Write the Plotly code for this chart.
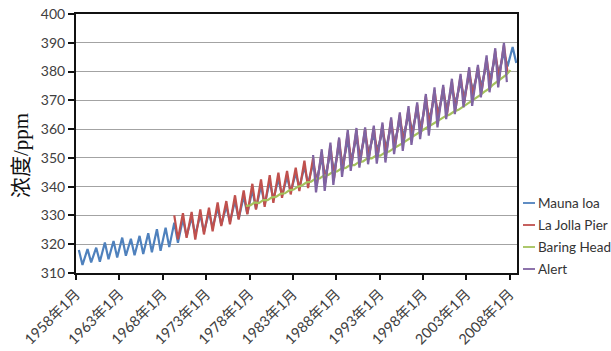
import plotly.graph_objects as go

# ---------------- data ----------------
# Mauna Loa: yearly spring maximum (May) and autumn minimum (Oct)
ml_years = list(range(1958, 2009))
ml_peak = [318.0, 318.3, 318.8, 320.6, 321.1, 322.3, 321.9, 322.9, 323.8, 325.2,
           325.7, 327.5, 328.8, 329.3, 330.2, 331.0, 332.6, 333.1, 335.0, 336.7,
           338.8, 340.2, 341.8, 342.7, 343.4, 344.6, 346.8, 347.8, 349.6, 351.5,
           353.8, 355.8, 356.8, 357.4, 358.0, 359.0, 360.8, 362.6, 364.6, 366.2,
           369.0, 371.0, 372.2, 374.0, 376.0, 378.3, 379.4, 382.3, 384.6, 386.5,
           388.5]
ml_trough = [312.8, 313.7, 313.9, 314.8, 315.4, 316.0, 316.2, 316.6, 317.2, 317.7,
             319.0, 320.5, 322.8, 323.3, 324.3, 325.8, 326.8, 327.8, 328.8, 330.6,
             332.3, 333.8, 335.6, 336.8, 338.2, 339.8, 341.3, 342.6, 343.8, 345.6,
             347.8, 349.6, 350.8, 352.2, 352.8, 353.8, 355.8, 357.8, 359.6, 360.8,
             363.8, 366.0, 367.4, 369.3, 371.3, 373.8, 375.3, 377.8, 379.8, 381.8,
             383.0]

# La Jolla Pier
lj_years = list(range(1969, 2008))
lj_peak = [330.0, 330.8, 331.2, 332.1, 332.7, 334.5, 335.0, 337.0, 338.7, 341.0,
           342.5, 344.0, 344.9, 345.5, 346.6, 349.0, 350.0, 352.0, 354.3, 356.5,
           358.8, 359.6, 360.0, 360.5, 361.5, 363.3, 365.0, 367.0, 368.5, 371.5,
           373.5, 374.6, 376.5, 378.5, 380.6, 381.5, 384.6, 387.0, 389.2]
lj_trough = [321.7, 322.2, 321.6, 323.4, 324.5, 326.3, 326.9, 328.6, 330.4, 332.0,
             333.0, 334.4, 336.1, 337.3, 338.5, 339.5, 340.5, 341.5, 343.0, 345.5,
             347.5, 348.5, 350.0, 350.5, 351.5, 353.5, 355.5, 357.5, 358.5, 361.5,
             364.0, 365.0, 367.0, 369.0, 371.5, 373.0, 375.5, 377.5, 379.5]

# Baring Head: August maximum of each year, February minimum of the next year
bh_years = list(range(1977, 2008))
bh_high = [333.3, 334.5, 335.3, 336.3, 337.5, 338.7, 340.0, 341.5, 342.7, 343.9,
           345.1, 346.3, 347.5, 348.5, 349.8, 350.8, 351.8, 353.2, 355.0, 357.0,
           358.8, 360.8, 362.7, 364.5, 366.1, 367.7, 369.5, 371.8, 374.0, 376.5,
           378.8]
bh_low_next = [333.5, 334.3, 335.3, 336.5, 337.7, 339.0, 340.5, 341.7, 342.9, 344.1,
               345.3, 346.5, 347.5, 348.8, 349.8, 350.8, 352.2, 354.0, 356.0, 357.8,
               359.8, 361.7, 363.5, 365.1, 366.7, 368.5, 370.8, 373.0, 375.5, 377.8,
               380.5]

# Alert
al_years = list(range(1985, 2008))
al_peak = [351.0, 353.0, 355.3, 357.1, 359.7, 360.4, 360.6, 361.2, 362.3, 364.1,
           365.8, 368.0, 369.3, 372.2, 374.5, 375.4, 377.5, 379.2, 381.5, 382.3,
           385.6, 388.1, 390.0]
al_trough = [338.0, 338.5, 340.6, 343.4, 345.5, 346.6, 347.8, 348.0, 348.4, 351.3,
             352.4, 354.5, 356.5, 357.7, 360.6, 363.5, 365.2, 367.6, 368.1, 371.0,
             372.8, 374.5, 376.3]

series_names = ["Mauna loa", "La Jolla Pier", "Baring Head", "Alert"]
series_colors = ["#4F81BD", "#C0504D", "#A4C25C", "#8064A2"]

tick_years = list(range(1958, 2009, 5))
tick_labels = [f"{y}年1月" for y in tick_years]


def zigzag(years, first_vals, m1, second_vals, m2, next_year=False):
    xs, ys = [], []
    for yr, a, b in zip(years, first_vals, second_vals):
        xs.append(f"{yr}-{m1:02d}-01")
        ys.append(a)
        xs.append(f"{yr + (1 if next_year else 0)}-{m2:02d}-01")
        ys.append(b)
    return xs, ys


data = [
    zigzag(ml_years, ml_peak, 5, ml_trough, 10),
    zigzag(lj_years, lj_peak, 5, lj_trough, 10),
    zigzag(bh_years, bh_high, 8, bh_low_next, 2, next_year=True),
    zigzag(al_years, al_peak, 5, al_trough, 9),
]

fig = go.Figure()
for (xs, ys), name, col in zip(data, series_names, series_colors):
    fig.add_trace(go.Scatter(x=xs, y=ys, mode="lines", name=name,
                             line=dict(color=col, width=2.2), showlegend=False))

# ---------------- layout ----------------
W, H = 611, 351
L, R, T, B = 76, 517, 14, 273


def px_x(p):
    return (p - L) / (R - L)


def px_y(p):
    return (B - p) / (B - T)


tickfont = dict(family="Lato, Noto Sans CJK SC, sans-serif", size=14, color="#404040")

fig.update_layout(
    width=W, height=H,
    margin=dict(l=L, r=W - R, t=T, b=H - B, pad=0),
    paper_bgcolor="white", plot_bgcolor="white",
    showlegend=False,
    xaxis=dict(
        type="date", range=["1958-01-01", "2008-11-01"],
        tickmode="array",
        tickvals=[f"{y}-01-01" for y in tick_years], ticktext=tick_labels,
        tickangle=-45, tickfont=dict(tickfont, size=14.5),
        ticks="outside", ticklen=5, tickwidth=1.5, tickcolor="#111",
        showgrid=False, zeroline=False,
        showline=True, linecolor="#111", linewidth=2, mirror=True,
        automargin=False, ticklabeloverflow="allow",
    ),
    yaxis=dict(
        range=[310, 400], dtick=10, tick0=310,
        tickfont=tickfont,
        ticks="outside", ticklen=6, tickwidth=1.5, tickcolor="#111",
        showgrid=True, gridcolor="#a3a3a3", gridwidth=1,
        zeroline=False,
        showline=True, linecolor="#111", linewidth=2, mirror=True,
        automargin=False, ticklabeloverflow="allow",
    ),
)

# y-axis title
fig.add_annotation(
    text="浓度/ppm", textangle=-90,
    xref="paper", yref="paper", x=px_x(21), y=px_y(156),
    xanchor="center", yanchor="middle", showarrow=False,
    font=dict(family="Liberation Serif, Noto Sans CJK SC, serif", size=21, color="#111"),
)

# legend (right of the plot)
legend_rows = [203, 225, 247, 269]
for name, col, ry in zip(series_names, series_colors, legend_rows):
    fig.add_shape(type="line", xref="paper", yref="paper",
                  x0=px_x(523), x1=px_x(535), y0=px_y(ry), y1=px_y(ry),
                  line=dict(color=col, width=1.8))
    fig.add_annotation(text=name, xref="paper", yref="paper",
                       x=px_x(536), y=px_y(ry), xanchor="left", yanchor="middle",
                       showarrow=False,
                       font=dict(family="Lato, sans-serif", size=13.5, color="#333"))

fig.write_html(
    "out.html",
    config={"displayModeBar": False},
    post_script="document.body.style.margin='0';document.body.style.overflow='hidden';",
)
